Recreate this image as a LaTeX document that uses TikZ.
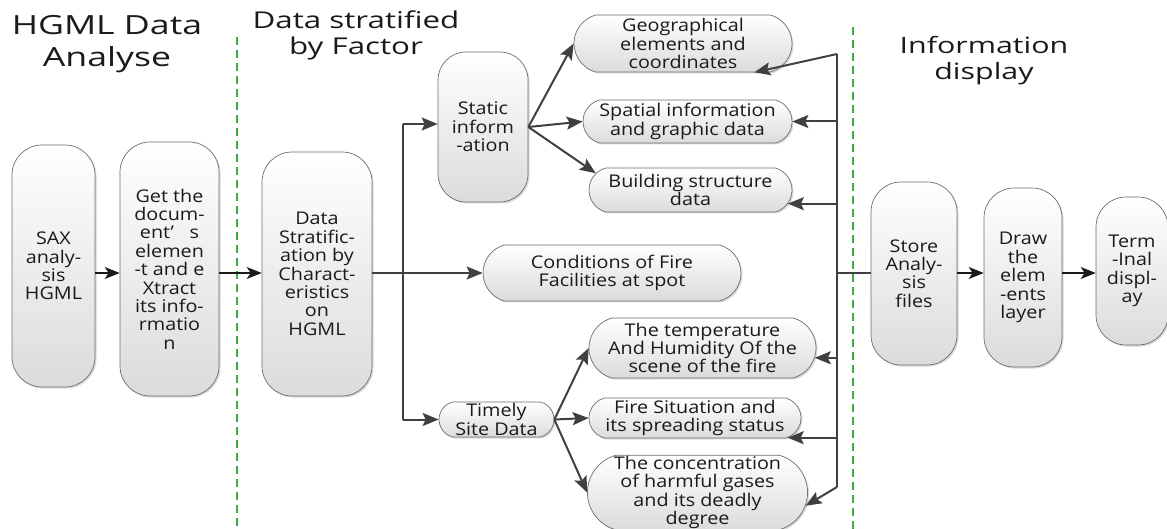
\documentclass[tikz,border=0pt]{standalone}
\usepackage{fontspec}
\setmainfont{Open Sans}[FakeStretch=1.13]
\newfontfamily\ttlfont{Open Sans}[FakeStretch=1.35]
\usetikzlibrary{arrows.meta,shapes.misc,shadows,calc}

\definecolor{edgegray}{HTML}{6E6E6E}
\definecolor{linegray}{HTML}{404040}
\definecolor{sepgreen}{HTML}{3FAA3F}
\definecolor{inkcol}{HTML}{1A1A1A}

\tikzset{
  boxbase/.style={draw=edgegray, line width=0.7pt, top color=white, bottom color=black!14,
    align=center, font=\fontsize{17.5}{18.4}\selectfont, inner sep=1pt, text=inkcol,
    drop shadow={shadow xshift=1.5pt, shadow yshift=-1.5pt, fill=black!25, opacity=0.6}},
  vbox/.style={boxbase, rectangle, rounded corners=30pt},
  pill/.style={boxbase, rounded rectangle, rounded rectangle arc length=150},
  conn/.style={line width=2pt, draw=linegray},
  arr/.style={conn, -{Stealth[length=16pt, width=13pt, inset=3pt]}},
  darr/.style={line width=1.6pt, draw=inkcol, -{Stealth[length=15pt, width=12pt, inset=4pt]}},
  sep/.style={draw=sepgreen, line width=1.1pt, dash pattern=on 8pt off 5pt},
  ttl/.style={align=center, text=inkcol, anchor=base}
}

\begin{document}
\begin{tikzpicture}[x=1pt, y=-1pt]
\useasboundingbox (0,0) rectangle (1167,529);

% section titles (anchored on the baseline of their last line)
\node[ttl, font=\ttlfont\fontsize{26.4}{32}\selectfont] (t1) at (107,67) {HGML Data\\Analyse};
\node[ttl, font=\ttlfont\fontsize{23.2}{26}\selectfont] (t2) at (356,55) {Data stratified\\by Factor};
\node[ttl, font=\ttlfont\fontsize{22.5}{26}\selectfont] (t3) at (984,80) {Information\\display};

% section separators
\coordinate (s1a) at (237,37);  \coordinate (s1b) at (237,529);
\coordinate (s2a) at (853,27);  \coordinate (s2b) at (853,529);
\draw[sep] (s1a) -- (s1b);
\draw[sep] (s2a) -- (s2b);

% parsing stage
\node[vbox, minimum width=83pt, minimum height=242pt] (sax) at (53.5,266) {SAX\\analy-\\sis\\HGML};
\node[vbox, minimum width=99pt, minimum height=254pt] (get) at (169.5,269)
  {Get the\\docum-\\ent’\hspace{0.9em}s\\elemen\\-t and e\\Xtract\\its info-\\rmatio\\n};
\node[vbox, minimum width=110pt, minimum height=244pt] (strat) at (317,274)
  {Data\\Stratific-\\ation by\\Charact-\\eristics\\on\\HGML};

% stratified data
\node[vbox, rounded corners=28pt, minimum width=90pt, minimum height=150pt] (static) at (483,127) {Static\\inform\\-ation};
\node[pill, minimum width=220pt, minimum height=57pt] (geo) at (683,43.5) {Geographical\\elements and\\coordinates};
\node[pill, minimum width=211pt, minimum height=43pt] (spat) at (687.5,121.5) {Spatial information\\and graphic data};
\node[pill, minimum width=205pt, minimum height=44pt] (build) at (690.5,190) {Building structure\\data};
\node[pill, minimum width=260pt, minimum height=56pt] (cond) at (612,273) {Conditions of Fire\\Facilities at spot};
\node[pill, minimum width=117pt, minimum height=35pt] (timely) at (496.5,419.5) {Timely\\Site Data};
\node[pill, minimum width=229pt, minimum height=60pt] (temp) at (702.5,348) {The temperature\\And Humidity Of the\\scene of the fire};
\node[pill, minimum width=214pt, minimum height=40pt] (fire) at (695,418) {Fire Situation and\\its spreading status};
\node[pill, minimum width=209pt, minimum height=71pt] (conc) at (697.5,492.5) {The concentration\\of harmful gases\\and its deadly\\degree};

% display stage
\node[vbox, minimum width=86pt, minimum height=183pt] (store) at (914,273.5) {Store\\Analy-\\sis\\files};
\node[vbox, minimum width=78pt, minimum height=179pt] (drawl) at (1023,277.5) {Draw\\the\\elem\\-ents\\layer};
\node[vbox, minimum width=72pt, minimum height=148pt] (term) at (1132,271) {Term\\-Inal\\displ-\\ay};

% main row
\coordinate (row) at (0,273);
\draw[darr] (sax.east |- row) -- (get.west |- row);
\draw[darr] (get.east |- row) -- (strat.west |- row);

% fan-out from stratification
\coordinate (fork) at (403,273);
\coordinate (forkTop) at (403,124);
\coordinate (forkBot) at (403,419.5);
\draw[conn] (strat.east |- row) -- (fork);
\draw[arr] (fork) -- (cond.west);
\draw[conn] (forkTop) -- (forkBot);
\draw[arr] (forkTop) -- (static.west |- forkTop);
\draw[arr] (forkBot) -- (timely.west);

% static information branches
\draw[arr] (static.east) -- (geo.west);
\draw[arr] (static.east) -- (spat.west);
\draw[arr] (static.east) -- (build.170);

% timely data branches
\draw[arr] (timely.east) -- (temp.west);
\draw[arr] (timely.east) -- (fire.west);
\draw[arr] (timely.east) -- (conc.west);

% feedback bus from the display stage
\coordinate (busTop) at (837,54);
\coordinate (busBot) at (837,487);
\coordinate (busMid) at (837,273);
\draw[conn] (busTop) -- (busBot);
\draw[conn] (busMid) -- (store.west |- busMid);
\draw[arr] (busTop) -- (geo.-22);
\draw[arr] (busTop |- spat.east) -- (spat.east);
\draw[arr] (busTop |- build.-8) -- (build.-8);
\draw[arr] (busTop |- temp.-5) -- (temp.-5);
\draw[arr] (busTop |- fire.-12) -- (fire.-12);
\draw[arr] (busBot) -- (conc.-7);

% display row
\draw[darr] (store.east |- row) -- (drawl.west |- row);
\draw[darr] (drawl.east |- row) -- (term.west |- row);
\end{tikzpicture}
\end{document}
